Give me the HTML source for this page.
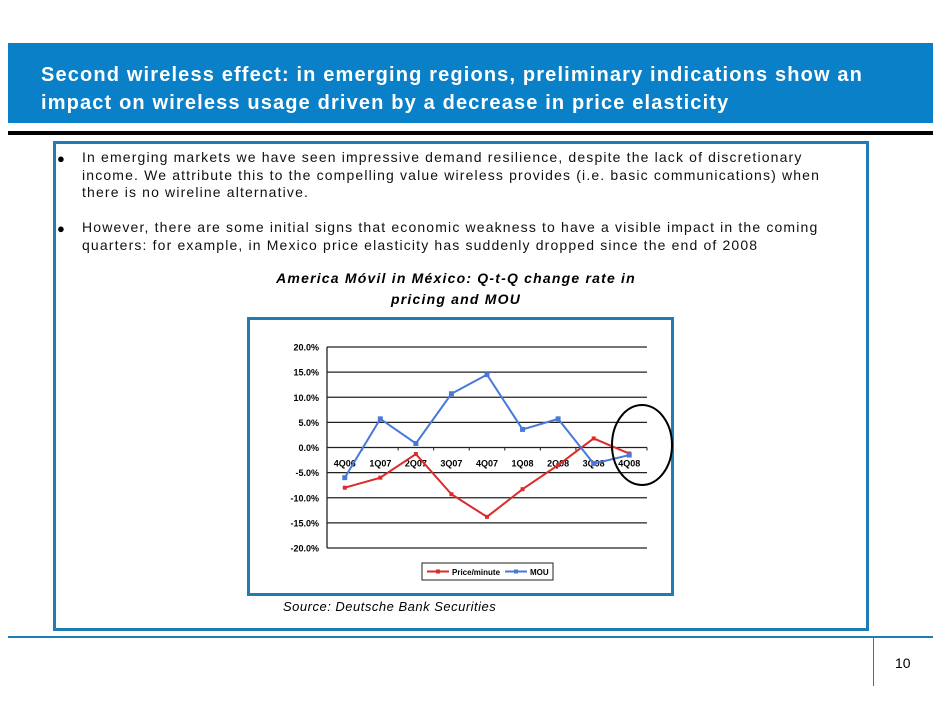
<!DOCTYPE html>
<html><head><meta charset="utf-8">
<style>
body{margin:0;width:942px;height:728px;background:#fff;position:relative;overflow:hidden;font-family:"Liberation Sans",Arial,sans-serif}
.abs{position:absolute}
#hdr{left:8px;top:43px;width:925px;height:80px;background:#0a80c8}
#hdr div{position:absolute;left:33px;top:18px;color:#fff;font-weight:bold;font-size:20px;letter-spacing:1.15px;line-height:28px;white-space:nowrap}
#rule{left:8px;top:131px;width:925px;height:4px;background:#000}
#box{left:53px;top:141px;width:810px;height:484px;border:3px solid #1f7cb4}
.bul{position:absolute;left:82px;font-size:14px;letter-spacing:1.15px;line-height:17.5px;color:#111;white-space:nowrap}
.dot{position:absolute;left:57px;font-size:13px}
#ct{left:230px;top:268px;width:452px;text-align:center;font-weight:bold;font-style:italic;font-size:14px;letter-spacing:1.2px;line-height:21px}
#chartbox{left:247px;top:317px;width:421px;height:273px;border:3px solid #1f7cb4}
#src{left:283px;top:599px;font-style:italic;font-size:13px;letter-spacing:0.5px}
#bl{left:8px;top:636px;width:925px;height:2px;background:#1f7cb4}
#vl{left:873px;top:638px;width:1px;height:48px;background:#1f7cb4}
#pn{left:895px;top:655px;font-size:14px}
</style></head><body>
<div id="hdr" class="abs"><div>Second wireless effect: in emerging regions, preliminary indications show an<br>impact on wireless usage driven by a decrease in price elasticity</div></div>
<div id="rule" class="abs"></div>
<div id="box" class="abs"></div>
<div class="dot abs" style="top:151px">●</div>
<div class="bul" style="top:149px">In emerging markets we have seen impressive demand resilience, despite the lack of discretionary<br>income. We attribute this to the compelling value wireless provides (i.e. basic communications) when<br>there is no wireline alternative.</div>
<div class="dot abs" style="top:221px">●</div>
<div class="bul" style="top:219px">However, there are some initial signs that economic weakness to have a visible impact in the coming<br>quarters: for example, in Mexico price elasticity has suddenly dropped since the end of 2008</div>
<div id="ct" class="abs">America Móvil in México: Q-t-Q change rate in<br>pricing and MOU</div>
<div id="chartbox" class="abs"></div>
<svg class="abs" style="left:0;top:0" width="942" height="728" id="chart"></svg>
<div id="src" class="abs">Source: Deutsche Bank Securities</div>
<div id="bl" class="abs"></div>
<div id="vl" class="abs"></div>
<div id="pn" class="abs">10</div>
<script>
const categories=["4Q06","1Q07","2Q07","3Q07","4Q07","1Q08","2Q08","3Q08","4Q08"];
const priceValues=[-8,-6,-1.3,-9.3,-13.8,-8.3,-3.5,1.8,-1.2];
const mouValues=[-6,5.7,0.8,10.7,14.5,3.6,5.7,-3.2,-1.5];
const yTicks=[20,15,10,5,0,-5,-10,-15,-20];
const yTickLabels=["20.0%","15.0%","10.0%","5.0%","0.0%","-5.0%","-10.0%","-15.0%","-20.0%"];
const seriesNames=["Price/minute","MOU"];

const svg=document.getElementById('chart');
const NS='http://www.w3.org/2000/svg';
const X0=327,X1=647,Y0=347,Y1=548;
const bw=(X1-X0)/categories.length;
function xs(i){return X0+bw*(i+0.5);}
function ys(v){return Y0+(20-v)/40*(Y1-Y0);}
function mk(t,a){const e=document.createElementNS(NS,t);for(const k in a)e.setAttribute(k,a[k]);svg.appendChild(e);return e;}
yTicks.forEach((v,i)=>{
  const g=mk('line',{x1:X0,x2:X1,y1:ys(v),y2:ys(v),stroke:'#222','stroke-width':1.3});
  
  
  const t=mk('text',{x:X0-8,y:ys(v)+3.5,'text-anchor':'end','font-size':9,'font-weight':'bold','font-family':'Liberation Sans,sans-serif'});
  t.textContent=yTickLabels[i];
  
  
});
const ax=mk('line',{x1:X0,x2:X0,y1:Y0,y2:Y1,stroke:'#222','stroke-width':1.3});


categories.forEach((c,i)=>{
  const tk=mk('line',{x1:X0+bw*(i+1),x2:X0+bw*(i+1),y1:ys(0),y2:ys(0)+3,stroke:'#222'});
  
  
  const t=mk('text',{x:xs(i),y:ys(0)+19,'text-anchor':'middle','font-size':9,'font-weight':'bold','font-family':'Liberation Sans,sans-serif'});
  t.textContent=c;
  
  
});
function series(vals,color,name,sq){
  const p=mk('polyline',{points:vals.map((v,i)=>xs(i)+','+ys(v)).join(' '),fill:'none',stroke:color,'stroke-width':2});
  
  
  vals.forEach((v,i)=>{
    const s=sq?5:4;
    const m=mk('rect',{x:xs(i)-s/2,y:ys(v)-s/2,width:s,height:s,fill:color});
    
    
  });
}
series(priceValues,'#dd2a2a','price',false);
series(mouValues,'#4a78d8','mou',true);
const el=mk('ellipse',{cx:642,cy:445,rx:30,ry:40,fill:'none',stroke:'#000','stroke-width':2});


const lg=mk('rect',{x:422,y:563,width:131,height:17,fill:'#fff',stroke:'#222'});


[['#dd2a2a',427,seriesNames[0]],['#4a78d8',505,seriesNames[1]]].forEach(([c,x,n])=>{
  const l=mk('line',{x1:x,x2:x+22,y1:571.5,y2:571.5,stroke:c,'stroke-width':2});
  
  
  mk('rect',{x:x+9,y:569.5,width:4,height:4,fill:c});
  const t=mk('text',{x:x+25,y:575,'font-size':8,'font-weight':'bold','font-family':'Liberation Sans,sans-serif'});
  t.textContent=n;
  
  
});
</script>
</body></html>
